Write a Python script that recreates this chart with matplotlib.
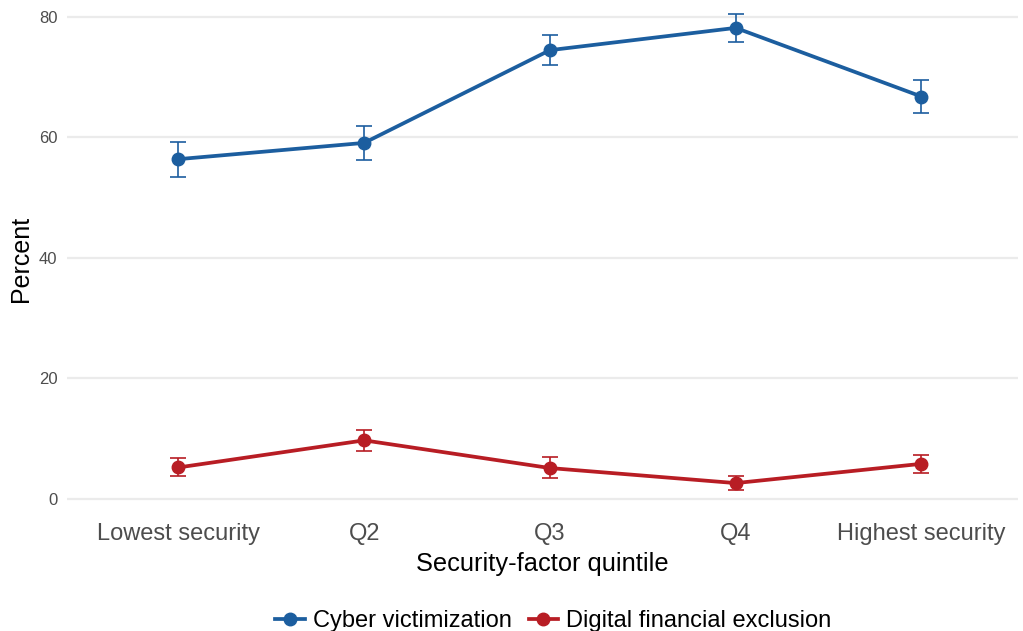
import matplotlib
matplotlib.use("Agg")
import matplotlib.pyplot as plt
import numpy as np
from matplotlib.lines import Line2D

plt.rcParams['font.family'] = ['Liberation Sans', 'DejaVu Sans']

# data
quintiles = ['Lowest security', 'Q2', 'Q3', 'Q4', 'Highest security']

cyber = [56.4, 59.1, 74.5, 78.2, 66.8]
cyber_lo = [53.4, 56.3, 72.0, 75.8, 64.1]
cyber_hi = [59.3, 61.9, 77.0, 80.5, 69.5]

exclusion = [5.2, 9.7, 5.1, 2.6, 5.8]
exclusion_lo = [3.7, 8.0, 3.4, 1.5, 4.3]
exclusion_hi = [6.8, 11.4, 6.9, 3.7, 7.2]

yticks = [0, 20, 40, 60, 80]

blue = '#1c5e9f'
red = '#b81d24'

W, H = 1023, 631
fig = plt.figure(figsize=(W / 100, H / 100), dpi=100)
ax = fig.add_axes([67 / W, 1 - 512 / H, (1018 - 67) / W, (512 - 5) / H])

x = np.arange(len(quintiles))

series = [
    ('Cyber victimization', cyber, cyber_lo, cyber_hi, blue),
    ('Digital financial exclusion', exclusion, exclusion_lo, exclusion_hi, red),
]

handles = []
for name, vals, lo, hi, col in series:
    vals = np.array(vals)
    err = [vals - np.array(lo), np.array(hi) - vals]
    ax.errorbar(x, vals, yerr=err, fmt='none', ecolor=col, elinewidth=1.2,
                capsize=5.5, capthick=1.2, clip_on=False, zorder=3)
    ax.plot(x, vals, color=col, lw=2.7, zorder=4, clip_on=False)
    ax.plot(x, vals, 'o', color=col, ms=9, zorder=5, clip_on=False)
    handles.append(Line2D([0], [0], color=col, lw=2.7, marker='o', ms=9, label=name))

ax.set_xlim(-0.6, 4.52)
ax.set_ylim(-2.2, 82.0)
ax.set_yticks(yticks)
ax.set_xticks(x)
ax.set_xticklabels(quintiles, fontsize=17, color='#4d4d4d')
ax.tick_params(axis='y', labelsize=12, labelcolor='#4d4d4d', length=0, pad=7)
ax.tick_params(axis='x', length=0, pad=8)

ax.grid(axis='y', color='#ebebeb', lw=1.6)
ax.set_axisbelow(True)
for s in ax.spines.values():
    s.set_visible(False)

ax.set_xlabel('Security-factor quintile', fontsize=18.3, labelpad=5)
ax.set_ylabel('Percent', fontsize=18, labelpad=4)

fig.legend(handles=handles, loc='center', bbox_to_anchor=(0.541, 1 - 621 / H),
           ncol=2, frameon=False, fontsize=17, handlelength=1.25,
           handletextpad=0.35, columnspacing=0.7)

fig.savefig('out.png', dpi=100)
